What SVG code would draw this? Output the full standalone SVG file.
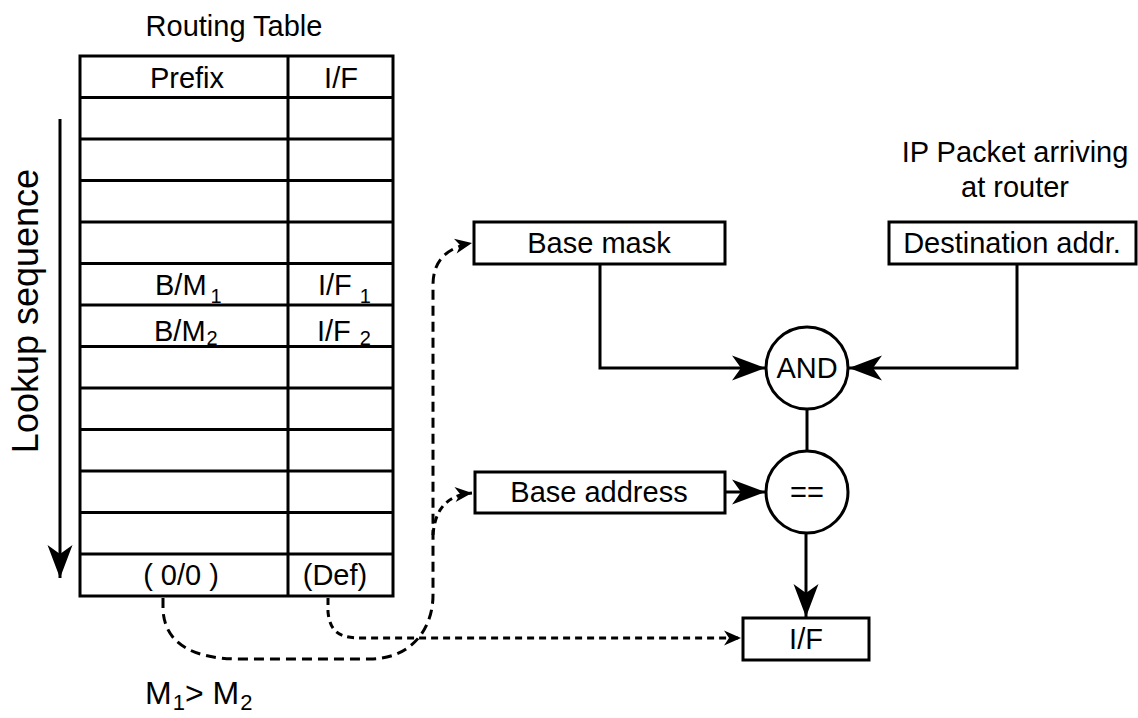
<svg xmlns="http://www.w3.org/2000/svg" width="1138" height="718" viewBox="0 0 1138 718">
<style>
text{font-family:"Liberation Sans",Arial,sans-serif;font-size:29px;fill:#000}
.c{text-anchor:middle}
.sub{font-size:20px}
.box{fill:#fff;stroke:#000;stroke-width:3}
.grid{stroke:#000;stroke-width:3;fill:none}
.ln{stroke:#000;stroke-width:3;fill:none}
.d1{stroke:#000;stroke-width:3;fill:none;stroke-dasharray:10 6}
.d2{stroke:#000;stroke-width:3;fill:none;stroke-dasharray:7 5}
</style>
<defs>
<marker id="big" markerUnits="userSpaceOnUse" viewBox="-34 -13 36 26" refX="0" refY="0" markerWidth="36" markerHeight="26" orient="auto">
<path d="M0,0 L-33,-12.5 L-24,0 L-33,12.5 Z" fill="#000"/>
</marker>
<marker id="small" markerUnits="userSpaceOnUse" viewBox="-19 -9 21 18" refX="0" refY="0" markerWidth="21" markerHeight="18" orient="auto">
<path d="M0,0 L-17,-7.5 L-12,0 L-17,7.5 Z" fill="#000"/>
</marker>
</defs>

<g id="routing-table">
<text class="c" x="234" y="36">Routing Table</text>
<rect class="grid" x="80" y="56" width="313" height="540" fill="#fff"/>
<line class="grid" x1="288" y1="56" x2="288" y2="596"/>
<path class="grid" d="M80,97.5H393M80,139H393M80,180.5H393M80,222H393M80,263.5H393M80,305H393M80,346.5H393M80,388H393M80,429.5H393M80,471H393M80,512.5H393M80,554H393"/>
<text class="c" x="187" y="88">Prefix</text>
<text class="c" x="341" y="88">I/F</text>
<text x="155" y="295">B/M<tspan class="sub" dx="4" dy="8">1</tspan></text>
<text x="318" y="295">I/F<tspan class="sub" dx="8" dy="8">1</tspan></text>
<text x="154" y="341">B/M<tspan class="sub" dx="1" dy="4">2</tspan></text>
<text x="317" y="341">I/F<tspan class="sub" dx="9" dy="4">2</tspan></text>
<text class="c" x="181" y="585">( 0/0 )</text>
<text class="c" x="335" y="585">(Def)</text>
</g>

<g id="lookup-sequence">
<text class="c" style="font-size:36px" transform="translate(38,311) rotate(-90)">Lookup sequence</text>
</g>

<g id="base-mask">
<rect class="box" x="474" y="222" width="251" height="42"/>
<text class="c" x="599" y="253">Base mask</text>
</g>

<g id="destination-addr">
<text class="c" x="1015" y="162">IP Packet arriving</text>
<text class="c" x="1015" y="197">at router</text>
<rect class="box" x="889" y="222" width="247" height="42"/>
<text class="c" x="1012" y="253">Destination addr.</text>
</g>

<g id="and-node">
<circle class="box" cx="807" cy="368" r="41"/>
<text class="c" x="807" y="378">AND</text>
</g>

<g id="eq-node">
<circle class="box" cx="807" cy="492" r="41"/>
<text class="c" x="807" y="502">==</text>
</g>

<g id="base-address">
<rect class="box" x="475" y="472" width="250" height="41"/>
<text class="c" x="599" y="502">Base address</text>
</g>

<g id="if-node">
<rect class="box" x="743" y="618" width="126" height="42"/>
<text class="c" x="806" y="649">I/F</text>
</g>

<g id="footnote">
<text style="font-size:32px" x="145" y="704">M<tspan class="sub" style="font-size:22px" dx="1" dy="6">1</tspan><tspan dy="-6">&gt; M</tspan><tspan class="sub" style="font-size:22px" dx="1" dy="6">2</tspan></text>
</g>

<g id="connectors">
<line class="ln" x1="60" y1="119" x2="60" y2="578" marker-end="url(#big)"/>
<path class="ln" d="M600,264 V368 H765" marker-end="url(#big)"/>
<path class="ln" d="M1017,264 V368 H849" marker-end="url(#big)"/>
<line class="ln" x1="807" y1="409" x2="807" y2="451"/>
<line class="ln" x1="725" y1="492" x2="765" y2="492" marker-end="url(#big)"/>
<line class="ln" x1="806" y1="533" x2="806" y2="617" marker-end="url(#big)"/>
<path class="d1" d="M163,598 V610 C165,645 195,659 240,659 H370 C410,659 433,630 433,595 V285 C433,262 445,248 472,243" marker-end="url(#small)"/>
<path class="d2" d="M433,535 C435,508 448,495 472,493" marker-end="url(#small)"/>
<path class="d2" d="M328,598 V612 C330,632 340,638 360,638 H741" marker-end="url(#small)"/>
</g>
</svg>
